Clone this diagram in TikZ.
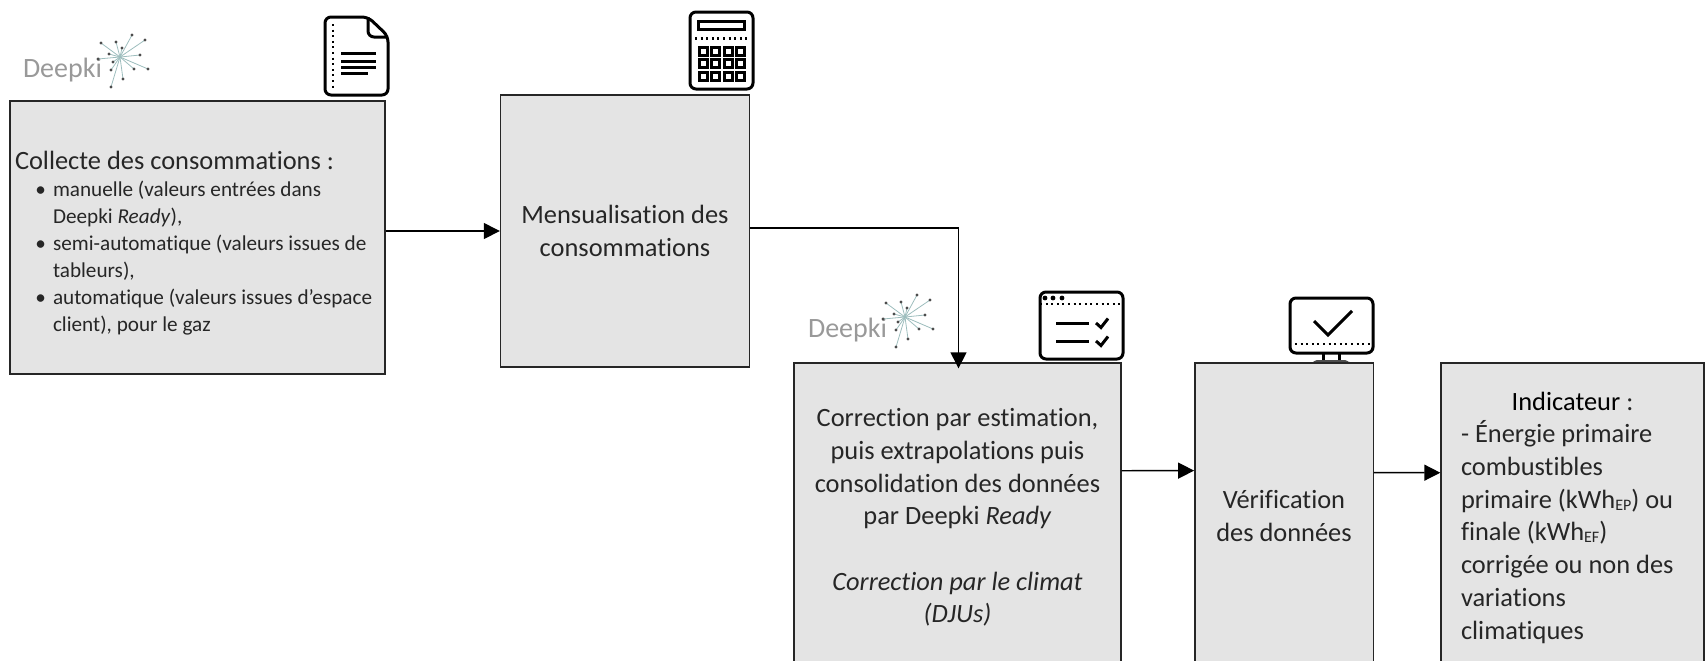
\documentclass[tikz,border=0pt]{standalone}
\usepackage{xcolor}
\usepackage{fontspec}
\setmainfont{Carlito}[Ligatures=NoCommon]
\usepackage{tikz}
\usetikzlibrary{arrows.meta, calc}
\definecolor{boxgray}{HTML}{E4E4E4}
\definecolor{rayteal}{HTML}{9DBDBD}
\newcommand{\corps}{\fontsize{13.2}{16.35}\selectfont}
\newcommand{\petit}{\fontsize{10.6}{13.5}\selectfont}
\newcommand{\indice}[1]{\raisebox{-1pt}{\fontsize{8}{8}\selectfont #1}}
\newenvironment{puces}{\begin{list}{\textbullet}{\setlength{\leftmargin}{19pt}\setlength{\labelsep}{3.5pt}\setlength{\labelwidth}{8pt}\setlength{\itemsep}{0pt}\setlength{\parsep}{0pt}\setlength{\topsep}{0pt}\setlength{\partopsep}{0pt}}}{\end{list}}
\tikzstyle{process} = [rectangle, draw=black!85, line width=.7pt, fill=boxgray, text=black!85, align=center, font=\corps]
\tikzstyle{arrow} = [line width=.7pt, black, -{Triangle[length=8pt,width=8pt]}]
\tikzstyle{icon} = [line width=1.5pt, rounded corners=3pt, black]
\tikzstyle{pointille} = [line width=1.1pt, dash pattern=on 1pt off 1.8pt]
\tikzset{
	deepki/.pic={
		\node (-mot) at (-57.5,13) [text=black!40, font=\fontsize{14}{14}\selectfont] {Deepki};
		\foreach \px/\py in {12/-22,25/-17,-19/-14,-4/-15,2/-9,20/-2,-11/-3,-22/2,-7/5,-9/13,14/12,28/12,3/22,-9/30} {
			\draw [rayteal, line width=.4pt] (0,0) -- (\px,\py);
			\fill [black!70] (\px,\py) circle (.8pt);
		}
	}
}

\begin{document}
\begin{tikzpicture}[x=.5pt, y=-.5pt]
	\useasboundingbox (0,0) rectangle (1706,660);
	
	% logos
	\pic (logo-collecte) at (120,57) {deepki};
	\pic (logo-correction) at (905,317) {deepki};
	
	% document
	\draw [icon] (368,17) -- (325,17) -- (325,95) -- (388,95) -- (388,36) -- cycle;
	\draw [icon] (368,17) -- (368,37) -- (388,37);
	\draw [pointille] (333,24) -- (333,88);
	\foreach \ly in {53,61,67} \draw [line width=1.5pt] (341,\ly) -- (376,\ly);
	\draw [line width=1.5pt] (341,73) -- (368,73);
	
	% calculator
	\draw [icon] (690,12) rectangle (753,89);
	\draw [line width=1.5pt] (698,21) rectangle (744,29);
	\draw [pointille] (695,38.5) -- (748,38.5);
	\foreach \cx in {703,715,728,740} \foreach \cy in {51,63,76} \draw [line width=1.5pt] ({\cx-4},{\cy-4}) rectangle ({\cx+4},{\cy+4});
	
	% checklist
	\draw [icon] (1040,292) rectangle (1123,359);
	\draw [pointille] (1040,304) -- (1123,304);
	\foreach \dx in {1045,1053,1062} \fill (\dx,298) circle (1.2pt);
	\foreach \ly in {323,341} {
		\draw [line width=1.5pt] (1056,\ly) -- (1089,\ly);
		\draw [line width=1.5pt] (1096,\ly) -- ++(5,4.5) -- ++(7,-9);
	}
	
	% monitor
	\draw [icon] (1290,298) rectangle (1373,353);
	\draw [line width=1.5pt] (1314,321) -- (1328,335) -- (1352,311);
	\draw [pointille] (1295,344) -- (1370,344);
	\draw [line width=1.5pt] (1323,353) -- (1323,361) (1339,353) -- (1339,361);
	\fill [black!70, rounded corners=2pt] (1313,365) rectangle (1349,360);
	
	% nodes
	\node (collecte) at (197.5,237.5) [process, minimum width=187.5pt, minimum height=136.5pt, inner xsep=2.5pt, text width=182.5pt, align=flush left] {
		\rule{0pt}{14.5pt}Collecte des consommations :\par
		{\petit\begin{puces}
			\item manuelle (valeurs entrées dans\\Deepki \textit{Ready}),
			\item semi-automatique (valeurs issues de\\tableurs),
			\item automatique (valeurs issues d’espace\\client), pour le gaz
		\end{puces}}
	};
	
	\node (mensualisation) at (625,231) [process, minimum width=124.5pt, minimum height=136pt] {
		Mensualisation des\\
		consommations
	};
	
	\node (correction) at (957.5,517.5) [process, minimum width=163.4pt, minimum height=154.5pt] {
		Correction par estimation,\\
		puis extrapolations puis\\
		consolidation des données\\
		par Deepki \textit{Ready}\\[16.35pt]
		\textit{Correction par le climat}\\
		\textit{(DJUs)}
	};
	
	\node (verification) at (1284,516) [process, minimum width=89.2pt, minimum height=153pt] {
		Vérification\\
		des données
	};
	
	\node (indicateur) at (1572.5,517.5) [process, minimum width=131.5pt, minimum height=154.5pt, text width=111.5pt, align=flush left] {
		{\centering\textcolor{black}{Indicateur} :\par}
		- Énergie primaire\\
		combustibles\\
		primaire (kWh\indice{EP}) ou\\
		finale (kWh\indice{EF})\\
		corrigée ou non des\\
		variations\\
		climatiques
	};
	
	% arrows
	\draw [arrow] (collecte.east |- mensualisation.west) -- (mensualisation.west);
	\draw [arrow, shorten >=-3pt] ([yshift=1.5pt] mensualisation.east) -| ([xshift=.5pt] correction.north);
	\draw [arrow] ([yshift=23.4pt] correction.east) -- ([yshift=22.7pt] verification.west);
	\draw [arrow] ([yshift=21.7pt] verification.east) -- ([yshift=22.4pt] indicateur.west);
\end{tikzpicture}
\end{document}
